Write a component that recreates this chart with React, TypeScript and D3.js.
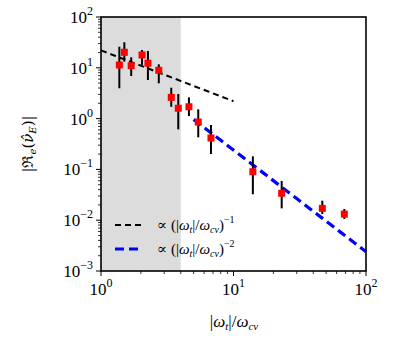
import React from "react";
import * as d3 from "d3";

const xs = [1.375, 1.5, 1.69, 2.04, 2.26, 2.73, 3.39, 3.83, 4.61, 5.42, 6.76, 14.0, 23.1, 46.8, 68.6];
const ys = [11.35, 20.2, 11.0, 17.9, 12.3, 8.93, 2.62, 1.6, 1.71, 0.857, 0.415, 0.09, 0.0339, 0.0171, 0.0132];
const yLo = [3.95, 13.2, 6.9, 11.4, 5.75, 4.95, 1.71, 0.615, 1.12, 0.428, 0.201, 0.0324, 0.0171, 0.0132, 0.0106];
const yHi = [26, 31.8, 16.1, 22.4, 21.4, 11.7, 4.06, 3.05, 2.62, 1.52, 0.748, 0.181, 0.0591, 0.0242, 0.0166];

const shadeRange = [1, 4];
const fit1 = { c: 22, p: -1, from: 1, to: 10 };
const fit2 = { c: 24, p: -2, from: 5, to: 100 };

const xTicks = [1, 10, 100];
const yTicks = [1e-3, 1e-2, 1e-1, 1, 10, 100];

const L = 101, R = 366, T = 17, B = 271;
const FONT = "'Liberation Serif', 'DejaVu Serif', serif";
const FONT2 = "'DejaVu Serif', serif";

function minorTicks(lo: number, hi: number) {
  const out: number[] = [];
  for (let e = Math.log10(lo); e < Math.log10(hi); e++) {
    for (let k = 2; k <= 9; k++) out.push(k * Math.pow(10, e));
  }
  return out;
}

export default function App() {
  const x = d3.scaleLog().domain([1, 100]).range([L, R]);
  const y = d3.scaleLog().domain([1e-3, 100]).range([B, T]);
  const f1 = d3.range(0, 21).map((i) => fit1.from * Math.pow(fit1.to / fit1.from, i / 20));
  const f2 = d3.range(0, 21).map((i) => fit2.from * Math.pow(fit2.to / fit2.from, i / 20));
  const sq = 7;
  return (
    <svg width={407} height={339} style={{ position: "absolute", left: 0, top: 0, background: "#fff" }} fontFamily={FONT}>
      <rect x={x(shadeRange[0])} y={T} width={x(shadeRange[1]) - x(shadeRange[0])} height={B - T} fill="#dcdcdc" />
      <path
        d={d3.line<number>().x((v) => x(v)).y((v) => y(fit1.c * Math.pow(v, fit1.p)))(f1) as string}
        fill="none" stroke="#000" strokeWidth={2} strokeDasharray="6,4"
      />
      <path
        d={d3.line<number>().x((v) => x(v)).y((v) => y(fit2.c * Math.pow(v, fit2.p)))(f2) as string}
        fill="none" stroke="#0000ff" strokeWidth={3.2} strokeDasharray="9,5"
      />
      {xs.map((v, i) => (
        <line key={"e" + i} x1={x(v)} x2={x(v)} y1={y(yLo[i])} y2={y(yHi[i])} stroke="#000" strokeWidth={2} />
      ))}
      {xs.map((v, i) => (
        <rect key={"m" + i} x={x(v) - sq / 2} y={y(ys[i]) - sq / 2} width={sq} height={sq} fill="#ff0000" />
      ))}
      <rect x={L} y={T} width={R - L} height={B - T} fill="none" stroke="#000" strokeWidth={1.6} />
      {xTicks.map((t) => (
        <g key={"xt" + t}>
          <line x1={x(t)} x2={x(t)} y1={B} y2={B + 5} stroke="#000" strokeWidth={1} />
          <text x={x(t)} y={B + 24} textAnchor="middle" fontSize={17}>
            10<tspan dy={-8} fontSize={12}>{Math.round(Math.log10(t))}</tspan>
          </text>
        </g>
      ))}
      {minorTicks(1, 100).map((t) => (
        <line key={"xm" + t} x1={x(t)} x2={x(t)} y1={B} y2={B + 3} stroke="#000" strokeWidth={0.8} />
      ))}
      {yTicks.map((t) => {
        const e = Math.round(Math.log10(t));
        return (
          <g key={"yt" + t}>
            <line x1={L - 5} x2={L} y1={y(t)} y2={y(t)} stroke="#000" strokeWidth={1} />
            <text x={L - 8} y={y(t) + 6} textAnchor="end" fontSize={17}>
              10<tspan dy={-8} fontSize={12}>{e < 0 ? "\u2212" + -e : String(e)}</tspan>
            </text>
          </g>
        );
      })}
      {minorTicks(1e-3, 100).map((t) => (
        <line key={"ym" + t} x1={L - 3} x2={L} y1={y(t)} y2={y(t)} stroke="#000" strokeWidth={0.8} />
      ))}
      <text x={234} y={327} textAnchor="middle" fontSize={17}>
        |<tspan fontStyle="italic">ω</tspan><tspan fontStyle="italic" fontSize={11} dy={3}>t</tspan>
        <tspan dy={-3}>|/</tspan><tspan fontStyle="italic">ω</tspan><tspan fontStyle="italic" fontSize={11} dy={3}>cv</tspan>
      </text>
      <text transform="translate(33,144) rotate(-90)" textAnchor="middle" fontSize={15} fontFamily={FONT2}>
        |ℜ<tspan fontStyle="italic" fontSize={10} dy={3}>e</tspan>
        <tspan dy={-3}>(</tspan><tspan fontStyle="italic">ν̂</tspan><tspan fontStyle="italic" fontSize={10} dy={3}>E</tspan>
        <tspan dy={-3}>)|</tspan>
      </text>
      <line x1={115} x2={143} y1={225} y2={225} stroke="#000" strokeWidth={2} strokeDasharray="6,4" />
      <line x1={115} x2={143} y1={249} y2={249} stroke="#0000ff" strokeWidth={3.2} strokeDasharray="9,5" />
      <text x={157} y={230} fontSize={15}>
        ∝ (|<tspan fontStyle="italic">ω</tspan><tspan fontStyle="italic" fontSize={10} dy={3}>t</tspan>
        <tspan dy={-3}>|/</tspan><tspan fontStyle="italic">ω</tspan><tspan fontStyle="italic" fontSize={10} dy={3}>cv</tspan>
        <tspan dy={-3}>)</tspan><tspan fontSize={10} dy={-7}>−1</tspan>
      </text>
      <text x={157} y={254} fontSize={15}>
        ∝ (|<tspan fontStyle="italic">ω</tspan><tspan fontStyle="italic" fontSize={10} dy={3}>t</tspan>
        <tspan dy={-3}>|/</tspan><tspan fontStyle="italic">ω</tspan><tspan fontStyle="italic" fontSize={10} dy={3}>cv</tspan>
        <tspan dy={-3}>)</tspan><tspan fontSize={10} dy={-7}>−2</tspan>
      </text>
    </svg>
  );
}
